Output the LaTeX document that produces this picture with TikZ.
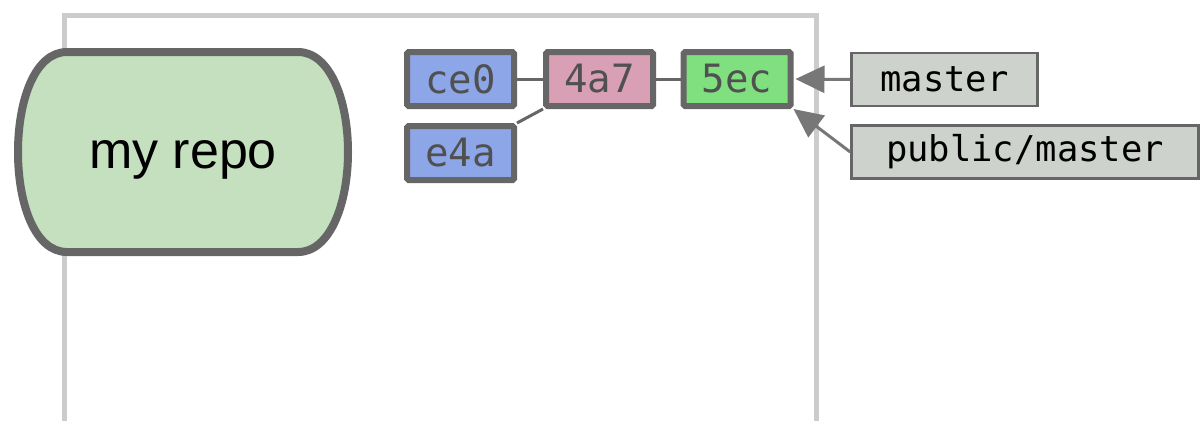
\documentclass[tikz,border=0pt]{standalone}
\usepackage{fontspec}
\setmainfont{Liberation Sans}
\newfontfamily\monofont{DejaVu Sans Mono}
\usetikzlibrary{arrows.meta}
\definecolor{frame}{HTML}{CCCCCC}
\definecolor{edge}{HTML}{666666}
\definecolor{arr}{HTML}{777777}
\definecolor{repofill}{HTML}{C5E0BF}
\definecolor{blue}{HTML}{8DA6E8}
\definecolor{pink}{HTML}{D89FB5}
\definecolor{grn}{HTML}{80E080}
\definecolor{reffill}{HTML}{CED2CC}
\definecolor{ctext}{HTML}{505050}
\tikzset{
  commit/.style={draw=edge, line width=6pt, rounded corners=1.5pt, minimum width=107pt, minimum height=54pt, inner sep=0pt, text=ctext, font=\monofont\fontsize{39}{41}\selectfont},
  refbox/.style={draw=edge, line width=2.5pt, fill=reffill, minimum height=53pt, inner sep=0pt, text=black, font=\monofont\fontsize{35.5}{38}\selectfont},
  link/.style={draw=edge, line width=3pt},
  refarrow/.style={draw=arr, line width=3pt, -{Triangle[length=29pt,width=27pt]}},
}
\begin{document}
\begin{tikzpicture}[x=1pt,y=-1pt]
\useasboundingbox (0,0) rectangle (1201,421);
% frame
\draw[frame, line width=5pt] (64.5,421) -- (64.5,15) -- (816,15) -- (816,421);
% repo
\path[draw=edge, fill=repofill, line width=8pt]
  (67,52) -- (298,52) .. controls (330,52) and (348,100) .. (348,152)
  .. controls (348,204) and (330,252) .. (298,252) -- (67,252)
  .. controls (35,252) and (18,204) .. (18,152)
  .. controls (18,100) and (35,52) .. (67,52) -- cycle;
\node[font=\fontsize{52}{60}\selectfont] (repo) at (183,160) {my repo};
% commits
\node[commit, fill=blue] (ce0) at (460.5,79) {ce0};
\node[commit, fill=pink] (c4a7) at (599.5,79) {4a7};
\node[commit, fill=grn] (c5ec) at (737,79) {5ec};
\node[commit, fill=blue] (e4a) at (460.5,153) {e4a};
\draw[link] (ce0.east) -- (c4a7.west);
\draw[link] (c4a7.east) -- (c5ec.west);
\draw[link] (e4a.north east) -- (c4a7.south west);
% refs
\node[refbox, minimum width=186pt] (master) at (944.5,79.5) {master};
\node[refbox, minimum width=347pt] (pm) at (1025,152) {public/master};
\draw[refarrow, shorten >=2pt] (master.west) -- (c5ec.east);
\draw[refarrow] (pm.west) -- (c5ec.south east);
\end{tikzpicture}
\end{document}
